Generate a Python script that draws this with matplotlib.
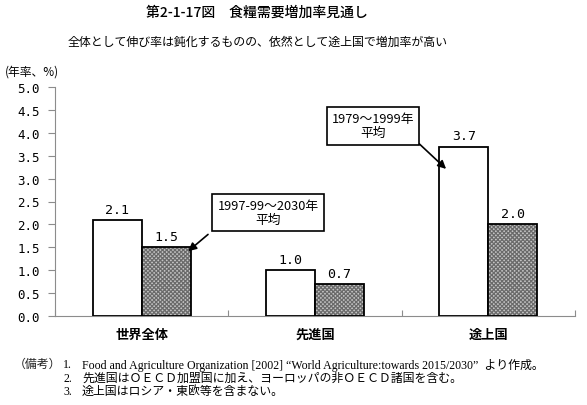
import matplotlib
matplotlib.use("Agg")
import matplotlib.pyplot as plt

plt.rcParams['font.family'] = ['Noto Sans CJK JP', 'DejaVu Sans']
plt.rcParams['hatch.linewidth'] = 0.9

categories = ['世界全体', '先進国', '途上国']
past_values = [2.1, 1.0, 3.7]      # 1979～1999年平均
future_values = [1.5, 0.7, 2.0]    # 1997-99～2030年平均
yticks = [0.0, 0.5, 1.0, 1.5, 2.0, 2.5, 3.0, 3.5, 4.0, 4.5, 5.0]

title = '第2-1-17図　食糧需要増加率見通し'
subtitle = '全体として伸び率は鈍化するものの、依然として途上国で増加率が高い'
ylabel = '(年率、%)'
box_future = '1997-99～2030年\n平均'
box_past = '1979～1999年\n平均'
notes_head = '（備考）'
notes = [
    ('1.', 'Food and Agriculture Organization [2002] \u201cWorld Agriculture:towards 2015/2030\u201d  より作成。'),
    ('2.', '先進国はＯＥＣＤ加盟国に加え、ヨーロッパの非ＯＥＣＤ諸国を含む。'),
    ('3.', '途上国はロシア・東欧等を含まない。'),
]

W, H = 587, 406
fig = plt.figure(figsize=(W / 100, H / 100), dpi=100)
ax = fig.add_axes([55 / W, 1 - 317 / H, (575 - 55) / W, (317 - 88) / H])

n = len(categories)
centers = [i + 0.5 for i in range(n)]
bw = 0.283
off = 0.1415
grey = '#8c8c8c'
num_font = dict(family=['DejaVu Sans Mono'], fontsize=9.5)

for c, pv, fv in zip(centers, past_values, future_values):
    ax.bar(c - off, pv, bw, color='white', edgecolor='black', linewidth=1.3, zorder=3)
    ax.bar(c + off, fv, bw, color='#c4c4c4', edgecolor='#6a6a6a', linewidth=0,
           hatch='xxxxxxxx', zorder=3)
    ax.bar(c + off, fv, bw, fill=False, edgecolor='black', linewidth=1.3, zorder=4)
    ax.annotate(f'{pv:.1f}', (c - off, pv), xytext=(0, 3), textcoords='offset points',
                ha='center', va='bottom', **num_font)
    ax.annotate(f'{fv:.1f}', (c + off, fv), xytext=(0, 3), textcoords='offset points',
                ha='center', va='bottom', **num_font)

ax.set_xlim(0, n)
ax.set_ylim(0, 5)
ax.set_yticks(yticks)
ax.set_yticklabels([f'{v:.1f}' for v in yticks], family=['DejaVu Sans Mono'], fontsize=9)
ax.set_xticks(range(n + 1))
ax.set_xticklabels([])
ax.tick_params(axis='x', direction='in', length=4, color=grey)
ax.tick_params(axis='y', direction='out', length=5, color=grey, pad=6)
for s in ['top', 'right']:
    ax.spines[s].set_visible(False)
for s in ['left', 'bottom']:
    ax.spines[s].set_color(grey)
    ax.spines[s].set_linewidth(0.8)

for c, name in zip(centers, categories):
    ax.text(c, -0.39, name, ha='center', va='center', fontsize=9.5, fontweight='bold')

# annotation boxes with arrows
bbox = dict(boxstyle='square,pad=0.4', fc='white', ec='black', lw=1.2)
ax.text(1.229, 2.26, box_future, ha='center', va='center', fontsize=9.2,
        linespacing=1.1, bbox=bbox, zorder=6)
ax.annotate('', xy=(0.756, 1.376), xytext=(0.895, 1.82),
            arrowprops=dict(arrowstyle='-|>', color='black', lw=1.2, mutation_scale=12),
            zorder=5)
ax.text(1.835, 4.15, box_past, ha='center', va='center', fontsize=9.2,
        linespacing=1.1, bbox=bbox, zorder=6)
ax.annotate('', xy=(2.268, 3.17), xytext=(2.09, 3.80),
            arrowprops=dict(arrowstyle='-|>', color='black', lw=1.2, mutation_scale=12),
            zorder=5)

# titles
fig.text(257 / W, 1 - 13 / H, title, ha='center', va='center', fontsize=10, fontweight='medium')
fig.text(258 / W, 1 - 42 / H, subtitle, ha='center', va='center', fontsize=8.6)
fig.text(5 / W, 1 - 72 / H, ylabel, ha='left', va='center', fontsize=8.5)

# notes
nf = ['Liberation Serif', 'Noto Sans CJK JP']
ys = [365, 379, 392]
fig.text(14 / W, 1 - ys[0] / H, notes_head, ha='left', va='center', fontsize=8.6,
         family=nf, color='#222222')
for (num, txt), y in zip(notes, ys):
    fig.text(63 / W, 1 - y / H, num, ha='left', va='center', fontsize=8.6, family=nf)
    fig.text(82 / W, 1 - y / H, txt, ha='left', va='center', fontsize=8.6, family=nf)

fig.savefig('out.png', dpi=100)
